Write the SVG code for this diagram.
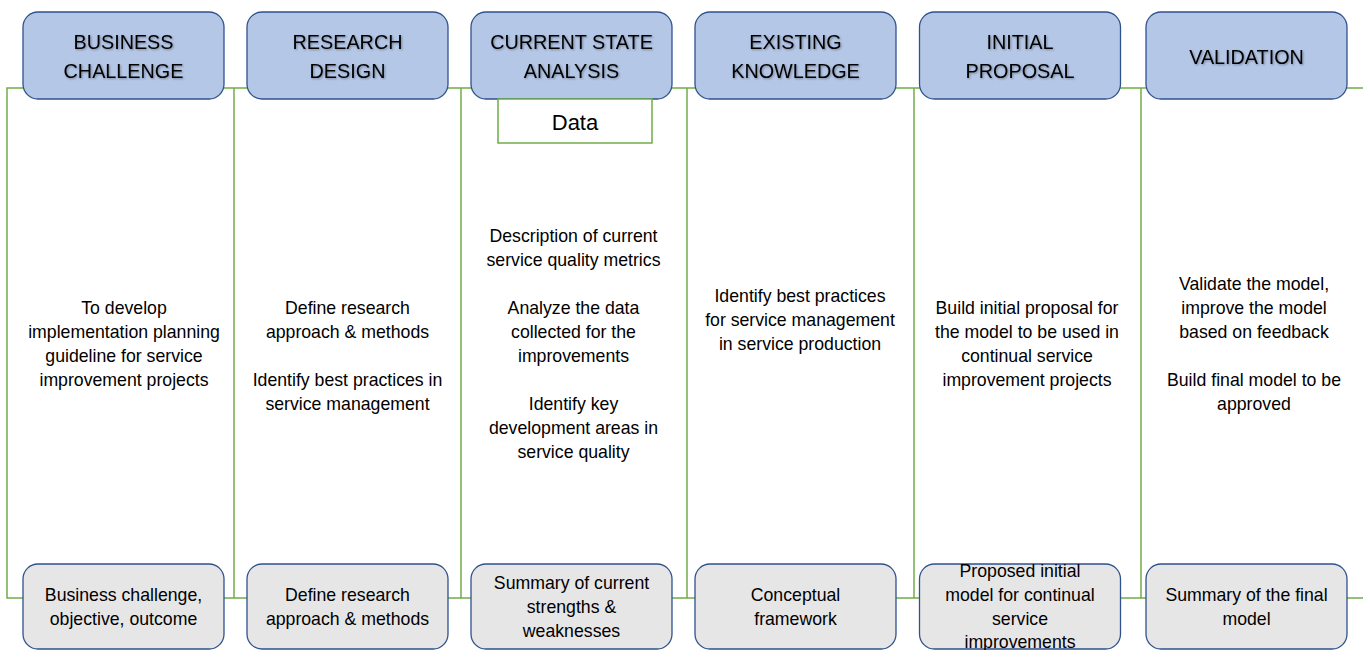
<svg xmlns="http://www.w3.org/2000/svg" width="1363" height="650" viewBox="0 0 1363 650">
  <defs>
    <filter id="txtShadow" x="-10%" y="-20%" width="120%" height="140%">
      <feDropShadow dx="1" dy="1" stdDeviation="0.8" flood-color="#000" flood-opacity="0.35"/>
    </filter>
  </defs>
  <style>
    .bg { fill: #ffffff; }
    .link { stroke: #70AD47; stroke-width: 1.5; fill: none; }
    .phase { fill: #B4C7E7; stroke: #2F528F; stroke-width: 1.3; }
    .result { fill: #E7E6E6; stroke: #2F528F; stroke-width: 1.3; }
    .data { fill: #ffffff; stroke: #70AD47; stroke-width: 1.5; }
    text { font-family: "Liberation Sans", Arial, sans-serif; fill: #000; text-anchor: middle; }
    .hd { font-size: 19.8px; filter: url(#txtShadow); }
    .body { font-size: 17.7px; }
    .dt { font-size: 22px; }
  </style>
  <rect class="bg" x="0" y="0" width="1363" height="650"/>

  <!-- green framework lines -->
  <g id="connectors">
    <polyline class="link" points="1363,88 7,88 7,598 1363,598"/>
    <line class="link" x1="234" y1="88" x2="234" y2="598"/>
    <line class="link" x1="461" y1="88" x2="461" y2="598"/>
    <line class="link" x1="687" y1="88" x2="687" y2="598"/>
    <line class="link" x1="914" y1="88" x2="914" y2="598"/>
    <line class="link" x1="1141" y1="88" x2="1141" y2="598"/>
  </g>

  <!-- phase headers -->
  <g id="phase-business-challenge">
    <rect class="phase" x="23" y="12" width="201" height="87" rx="15"/>
    <text class="hd" x="123.5" y="49">BUSINESS</text>
    <text class="hd" x="123.5" y="78">CHALLENGE</text>
  </g>
  <g id="phase-research-design">
    <rect class="phase" x="247" y="12" width="201" height="87" rx="15"/>
    <text class="hd" x="347.5" y="49">RESEARCH</text>
    <text class="hd" x="347.5" y="78">DESIGN</text>
  </g>
  <g id="phase-current-state">
    <rect class="phase" x="471" y="12" width="201" height="87" rx="15"/>
    <text class="hd" x="571.5" y="49">CURRENT STATE</text>
    <text class="hd" x="571.5" y="78">ANALYSIS</text>
  </g>
  <g id="phase-existing-knowledge">
    <rect class="phase" x="695" y="12" width="201" height="87" rx="15"/>
    <text class="hd" x="795.5" y="49">EXISTING</text>
    <text class="hd" x="795.5" y="78">KNOWLEDGE</text>
  </g>
  <g id="phase-initial-proposal">
    <rect class="phase" x="919.5" y="12" width="201" height="87" rx="15"/>
    <text class="hd" x="1020" y="49">INITIAL</text>
    <text class="hd" x="1020" y="78">PROPOSAL</text>
  </g>
  <g id="phase-validation">
    <rect class="phase" x="1146" y="12" width="201" height="87" rx="15"/>
    <text class="hd" x="1246.5" y="64">VALIDATION</text>
  </g>

  <!-- data input -->
  <g id="data-input">
    <rect class="data" x="498" y="99" width="154" height="44"/>
    <text class="dt" x="575" y="130">Data</text>
  </g>

  <!-- phase activities -->
  <g id="activities-business-challenge">
    <text class="body" x="124" y="314">To develop</text>
    <text class="body" x="124" y="338">implementation planning</text>
    <text class="body" x="124" y="362">guideline for service</text>
    <text class="body" x="124" y="386">improvement projects</text>
  </g>
  <g id="activities-research-design">
    <text class="body" x="347.5" y="314">Define research</text>
    <text class="body" x="347.5" y="338">approach &amp; methods</text>
    <text class="body" x="347.5" y="386">Identify best practices in</text>
    <text class="body" x="347.5" y="410">service management</text>
  </g>
  <g id="activities-current-state">
    <text class="body" x="573.5" y="242">Description of current</text>
    <text class="body" x="573.5" y="266">service quality metrics</text>
    <text class="body" x="573.5" y="314">Analyze the data</text>
    <text class="body" x="573.5" y="338">collected for the</text>
    <text class="body" x="573.5" y="362">improvements</text>
    <text class="body" x="573.5" y="410">Identify key</text>
    <text class="body" x="573.5" y="434">development areas in</text>
    <text class="body" x="573.5" y="458">service quality</text>
  </g>
  <g id="activities-existing-knowledge">
    <text class="body" x="800" y="302">Identify best practices</text>
    <text class="body" x="800" y="326">for service management</text>
    <text class="body" x="800" y="350">in service production</text>
  </g>
  <g id="activities-initial-proposal">
    <text class="body" x="1027" y="314">Build initial proposal for</text>
    <text class="body" x="1027" y="338">the model to be used in</text>
    <text class="body" x="1027" y="362">continual service</text>
    <text class="body" x="1027" y="386">improvement projects</text>
  </g>
  <g id="activities-validation">
    <text class="body" x="1254" y="290">Validate the model,</text>
    <text class="body" x="1254" y="314">improve the model</text>
    <text class="body" x="1254" y="338">based on feedback</text>
    <text class="body" x="1254" y="386">Build final model to be</text>
    <text class="body" x="1254" y="410">approved</text>
  </g>

  <!-- phase outputs -->
  <g id="output-business-challenge">
    <rect class="result" x="23" y="564" width="201" height="85" rx="15"/>
    <text class="body" x="123.5" y="601">Business challenge,</text>
    <text class="body" x="123.5" y="625">objective, outcome</text>
  </g>
  <g id="output-research-design">
    <rect class="result" x="247" y="564" width="201" height="85" rx="15"/>
    <text class="body" x="347.5" y="601">Define research</text>
    <text class="body" x="347.5" y="625">approach &amp; methods</text>
  </g>
  <g id="output-current-state">
    <rect class="result" x="471" y="564" width="201" height="85" rx="15"/>
    <text class="body" x="571.5" y="589">Summary of current</text>
    <text class="body" x="571.5" y="613">strengths &amp;</text>
    <text class="body" x="571.5" y="637">weaknesses</text>
  </g>
  <g id="output-existing-knowledge">
    <rect class="result" x="695" y="564" width="201" height="85" rx="15"/>
    <text class="body" x="795.5" y="601">Conceptual</text>
    <text class="body" x="795.5" y="625">framework</text>
  </g>
  <g id="output-initial-proposal">
    <rect class="result" x="919.5" y="564" width="201" height="85" rx="15"/>
    <text class="body" x="1020" y="577">Proposed initial</text>
    <text class="body" x="1020" y="601">model for continual</text>
    <text class="body" x="1020" y="625">service</text>
    <text class="body" x="1020" y="648">improvements</text>
  </g>
  <g id="output-validation">
    <rect class="result" x="1146" y="564" width="201" height="85" rx="15"/>
    <text class="body" x="1246.5" y="601">Summary of the final</text>
    <text class="body" x="1246.5" y="625">model</text>
  </g>
</svg>
